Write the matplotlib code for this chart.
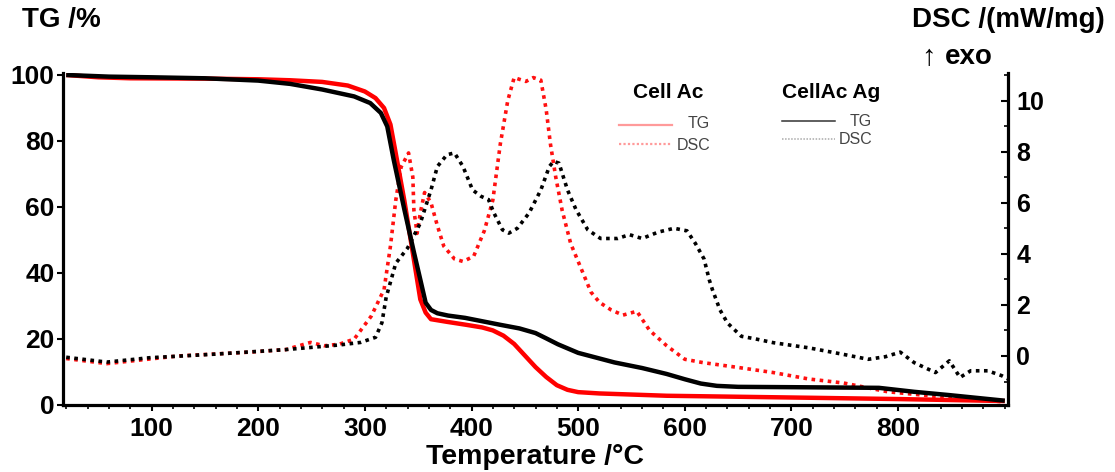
import matplotlib
matplotlib.use("Agg")
import matplotlib.pyplot as plt
from matplotlib.lines import Line2D
from matplotlib.ticker import MultipleLocator

plt.rcParams['font.family'] = ['Liberation Sans', 'DejaVu Sans']

# TG of Cell Ac (red) and CellAc Ag (black), temperature in degC, mass in %
tg_ac_T = [20, 50, 80, 150, 200, 230, 260, 284, 300, 310, 318, 324, 328, 337, 346, 352, 357, 362,
           377, 395, 410, 420, 430, 440, 450, 460, 470, 480, 490, 500, 520, 583, 716, 800, 900]
tg_ac = [100, 99.3, 99.0, 98.9, 98.7, 98.4, 97.9, 96.8, 95, 93, 90, 85, 78, 62, 44, 32, 28, 26,
         25.2, 24.3, 23.5, 22.6, 21, 18.5, 15, 11.5, 8.5, 6, 4.6, 3.9, 3.5, 2.8, 2.2, 1.8, 1.2]

tg_ag_T = [20, 60, 100, 150, 200, 230, 260, 290, 305, 315, 321, 327, 337, 346, 352, 357, 362,
           368, 378, 394, 427, 445, 460, 470, 481, 500, 534, 560, 583, 600, 615, 630, 650, 700,
           782, 815, 848, 900]
tg_ag = [100, 99.5, 99.3, 99.0, 98.3, 97.3, 95.6, 93.5, 91.5, 88.5, 84.4, 74.4, 59.3, 46.3, 38, 31, 28.8,
         27.8, 27.1, 26.4, 24.3, 23.2, 21.8, 20.2, 18.4, 15.8, 12.9, 11.2, 9.4, 7.8, 6.5, 5.8, 5.5, 5.4,
         5.2, 4.0, 3.0, 1.3]

# DSC in mW/mg
dsc_ac_T = [20, 58, 125, 192, 226, 249, 262, 276, 290, 306, 318, 324, 329, 334, 341, 345, 346, 349,
            352, 356, 362, 368, 374, 384, 392, 402, 412, 420, 427, 434, 440, 451, 458, 465, 470, 474,
            479, 485, 493, 502, 512, 520, 531, 542, 555, 567, 583, 600, 617, 650, 683, 716, 749, 790,
            840, 900]
dsc_ac = [-0.1, -0.3, 0.0, 0.15, 0.25, 0.53, 0.4, 0.46, 0.66, 1.56, 2.6, 4.3, 6.1, 7.4, 7.95, 7.0, 5.7, 4.8,
          5.6, 6.4, 6.0, 5.1, 4.3, 3.8, 3.7, 3.9, 4.9, 6.1, 8.3, 10.0, 10.9, 10.75, 10.9, 10.8, 9.65, 8.3,
          7.0, 5.7, 4.4, 3.5, 2.5, 2.1, 1.8, 1.6, 1.75, 1.0, 0.4, -0.13, -0.26, -0.45, -0.65, -0.9, -1.06, -1.4,
          -1.6, -1.8]

dsc_ag_T = [20, 58, 98, 159, 226, 276, 296, 310, 316, 320, 329, 340, 352, 362, 368, 377, 384, 392, 401,
            409, 416, 421, 429, 435, 443, 454, 465, 473, 477, 482, 490, 498, 509, 521, 537, 548, 560, 575,
            590, 602, 610, 618, 623, 626, 633, 640, 653, 666, 683, 716, 749, 772, 788, 802, 815, 835, 848,
            858, 868, 884, 897, 903]
dsc_ag = [-0.05, -0.24, -0.07, 0.07, 0.25, 0.43, 0.53, 0.73, 1.3, 2.3, 3.63, 4.22, 5.2, 6.5, 7.42, 7.88, 7.95,
          7.42, 6.5, 6.25, 6.12, 5.6, 4.94, 4.81, 5.0, 5.6, 6.5, 7.42, 7.62, 7.55, 6.5, 5.73, 4.94, 4.6, 4.6,
          4.75, 4.6, 4.85, 5.0, 4.9, 4.4, 3.8, 2.97, 2.58, 1.8, 1.29, 0.77, 0.67, 0.52, 0.32, 0.06, -0.13,
          -0.03, 0.15, -0.26, -0.65, -0.19, -0.84, -0.58, -0.58, -0.77, -0.9]

fig = plt.figure(figsize=(11.15, 4.72), dpi=100)
ax = fig.add_axes([63 / 1115, 1 - 405 / 472, 945 / 1115, 332 / 472])
ax2 = ax.twinx()

# DSC curves (dotted) on the right axis
dots = (0, (1, 1.25))
ax2.plot(dsc_ac_T, dsc_ac, color='#ff1010', lw=2.6, linestyle=dots, dash_capstyle='butt', zorder=2)
ax2.plot(dsc_ag_T, dsc_ag, color='black', lw=2.6, linestyle=dots, dash_capstyle='butt', zorder=2)

# TG curves (solid) on the left axis
ax.plot(tg_ac_T, tg_ac, color='#ff0000', lw=3.2, solid_capstyle='butt', zorder=3)
ax.plot(tg_ag_T, tg_ag, color='black', lw=3.2, solid_capstyle='butt', zorder=3)
ax.set_zorder(ax2.get_zorder() + 1)
ax.patch.set_visible(False)

ax.set_xlim(17, 903)
ax.set_ylim(0, 100.6)
ax2.set_ylim(-1.92, 11.08)

for a in (ax, ax2):
    a.spines['top'].set_visible(False)
    for s in a.spines.values():
        s.set_linewidth(2.3)

ax.spines['right'].set_visible(False)
ax2.spines['left'].set_visible(False)
ax2.spines['bottom'].set_visible(False)

ax.xaxis.set_minor_locator(MultipleLocator(20))
ax.set_xticks([100, 200, 300, 400, 500, 600, 700, 800])
ax.yaxis.set_major_locator(MultipleLocator(20))
ax2.yaxis.set_major_locator(MultipleLocator(2))
ax2.yaxis.set_minor_locator(MultipleLocator(1))

ax.tick_params(axis='x', which='major', direction='out', length=4, width=1.5, pad=5,
               labelsize=19)
ax.tick_params(axis='x', which='minor', direction='out', length=3, width=1.2)
ax.tick_params(axis='y', which='major', direction='out', length=4, width=1.5, pad=2, labelsize=19)
ax2.tick_params(axis='y', which='major', direction='in', length=5, width=1.5, pad=6, labelsize=18)
ax2.tick_params(axis='y', which='minor', direction='in', length=3, width=1.2)
for lab in ax.get_xticklabels() + ax.get_yticklabels() + ax2.get_yticklabels():
    lab.set_fontweight('bold')

ax.set_xlabel('Temperature /°C', fontsize=20.5, fontweight='bold', labelpad=2)

fig.text(22 / 1115, 1 - 20 / 472, 'TG /%', fontsize=20, fontweight='bold', ha='left', va='center')
fig.text(912 / 1115, 1 - 20 / 472, 'DSC /(mW/mg)', fontsize=20, fontweight='bold', ha='left', va='center')
fig.text(921 / 1115, 1 - 57 / 472, '↑', fontsize=21, ha='left', va='center',
         family=['Liberation Sans', 'DejaVu Sans'])
fig.text(945 / 1115, 1 - 57 / 472, 'exo', fontsize=20, fontweight='bold', ha='left', va='center')


# legend blocks, positions in pixels of the 1115x472 figure
def fx(px):
    return px / 1115


def fy(py):
    return 1 - py / 472


fig.text(fx(668), fy(93), 'Cell Ac', fontsize=15, fontweight='bold', ha='center', va='center')
fig.add_artist(Line2D([fx(619), fx(672)], [fy(125), fy(125)], color='#ff9a9a', lw=1.6))
fig.add_artist(Line2D([fx(619), fx(672)], [fy(144), fy(144)], color='#ff9a9a', lw=1.6,
                      linestyle=(0, (1, 1))))
fig.text(fx(710), fy(124), 'TG', fontsize=11.5, color='#444444', ha='right', va='center')
fig.text(fx(710), fy(145), 'DSC', fontsize=11.5, color='#444444', ha='right', va='center')

fig.text(fx(831), fy(93), 'CellAc Ag', fontsize=15, fontweight='bold', ha='center', va='center')
fig.add_artist(Line2D([fx(782), fx(835)], [fy(121), fy(121)], color='#333333', lw=1.1))
fig.add_artist(Line2D([fx(782), fx(835)], [fy(139), fy(139)], color='#aaaaaa', lw=1.1,
                      linestyle=(0, (1, 1))))
fig.text(fx(872), fy(121), 'TG', fontsize=11.5, color='#444444', ha='right', va='center')
fig.text(fx(872), fy(139), 'DSC', fontsize=11.5, color='#444444', ha='right', va='center')

fig.savefig('out.png', dpi=100)
